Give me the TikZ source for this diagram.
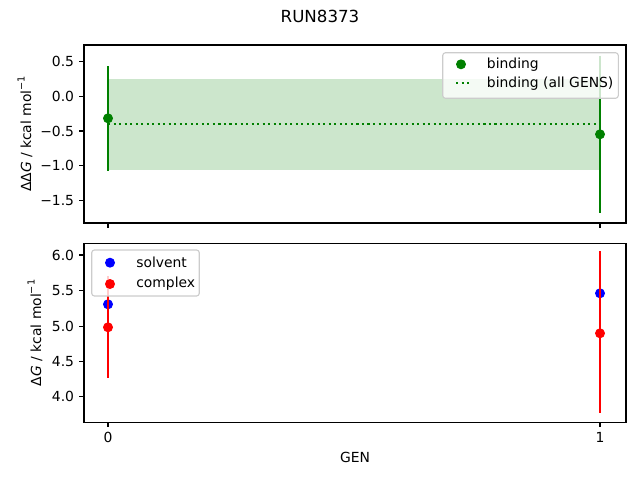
\documentclass[tikz,border=0pt]{standalone}
\usepackage{fontspec}
\setmainfont{DejaVu Sans}
\newcommand{\kcalunit}{kcal mol\raisebox{0.85ex}{\fontsize{7}{8}\selectfont −1}}
\definecolor{mgreen}{HTML}{008000}
\definecolor{mshade}{HTML}{CCE6CC}
\definecolor{mblue}{HTML}{0000FF}
\definecolor{mred}{HTML}{FF0000}
\definecolor{legedge}{HTML}{CCCCCC}
\tikzset{
  spine/.style={draw=black, line width=0.8pt},
  tick/.style={draw=black, line width=0.8pt},
  ylab/.style={anchor=east, inner sep=0pt, font=\fontsize{10}{12}\selectfont},
  xlab/.style={anchor=north, inner sep=0pt, font=\fontsize{10}{12}\selectfont},
  ebar/.style={line width=1.5pt},
  dotmark/.style={circle, inner sep=0pt, minimum size=7.2pt},
  legbox/.style={draw=legedge, line width=0.8pt, fill=white, fill opacity=0.8, rounded corners=2pt},
  legtext/.style={anchor=west, inner sep=0pt, font=\fontsize{10}{12}\selectfont},
}
\begin{document}
\begin{tikzpicture}[x=0.72pt, y=-0.72pt]
\useasboundingbox (0,0) rectangle (640,480);
% title
\node[font=\fontsize{12}{14}\selectfont] (title) at (320,16) {RUN8373};

% ===== top axes =====
\fill[mshade] (108,79) rectangle (600,170);
\draw[mgreen, line width=1.5pt, dash pattern=on 1.5pt off 2.475pt] (108,124) -- (600,124);
\coordinate (t0a) at (108,66); \coordinate (t0b) at (108,170.7);
\coordinate (t1a) at (600,55.5); \coordinate (t1b) at (600,213);
\draw[mgreen, ebar] (t0a) -- (t0b);
\draw[mgreen, ebar] (t1a) -- (t1b);
\node[dotmark, fill=mgreen] (p0) at (108,118.3) {};
\node[dotmark, fill=mgreen] (p1) at (600,134.3) {};
\draw[spine] (84,45) rectangle (626,223);
\foreach \y/\t in {61.7/0.5, 96.3/0.0, 131/−0.5, 165.7/−1.0, 200.3/−1.5}{
  \draw[tick] (84,\y) -- (79.1,\y);
  \node[ylab] at (74.3,\y) {\t};
}
\foreach \x in {108,600}{ \draw[tick] (\x,223) -- (\x,227.9); }
\node[rotate=90, font=\fontsize{10}{12}\selectfont] (ylabtop) at (25,134) {ΔΔ\textit{G} / \kcalunit};
% legend top
\draw[legbox] (442.7,52.7) rectangle (618.3,98.3);
\node[dotmark, fill=mgreen] (lg1) at (461,64.3) {};
\draw[mgreen, line width=1.5pt, dash pattern=on 1.5pt off 2.475pt] (456,83.3) -- (472,83.3);
\node[legtext] (lt1) at (486.7,64.3) {binding};
\node[legtext] (lt2) at (486.7,83.3) {binding (all GENS)};

% ===== bottom axes =====
\node[dotmark, fill=mblue] (s0) at (108,304.3) {};
\node[dotmark, fill=mblue] (s1) at (600,293.3) {};
\coordinate (c0a) at (108,276); \coordinate (c0b) at (108,377.6);
\coordinate (c1a) at (600,251); \coordinate (c1b) at (600,413.3);
\draw[mred, ebar] (c0a) -- (c0b);
\draw[mred, ebar] (c1a) -- (c1b);
\node[dotmark, fill=mred] (c0) at (108,327.3) {};
\node[dotmark, fill=mred] (c1) at (600,333.3) {};
\draw[spine] (84,243.3) rectangle (626,422.3);
\foreach \y/\t in {255/6.0, 290.7/5.5, 326.3/5.0, 361.3/4.5, 396.7/4.0}{
  \draw[tick] (84,\y) -- (79.1,\y);
  \node[ylab] at (74.3,\y) {\t};
}
\foreach \x/\t in {108/0, 600/1}{
  \draw[tick] (\x,422.3) -- (\x,427.2);
  \node[xlab] at (\x,432) {\t};
}
\node[font=\fontsize{10}{12}\selectfont] (gen) at (355,457) {GEN};
\node[rotate=90, font=\fontsize{10}{12}\selectfont] (ylabbot) at (35,333) {Δ\textit{G} / \kcalunit};
% legend bottom
\draw[legbox] (91.7,250) rectangle (199.3,296);
\node[dotmark, fill=mblue] (lb1) at (110,262.7) {};
\node[dotmark, fill=mred] (lb2) at (110,284) {};
\node[legtext] (lbt1) at (136,262.7) {solvent};
\node[legtext] (lbt2) at (136,284) {complex};
\end{tikzpicture}
\end{document}
